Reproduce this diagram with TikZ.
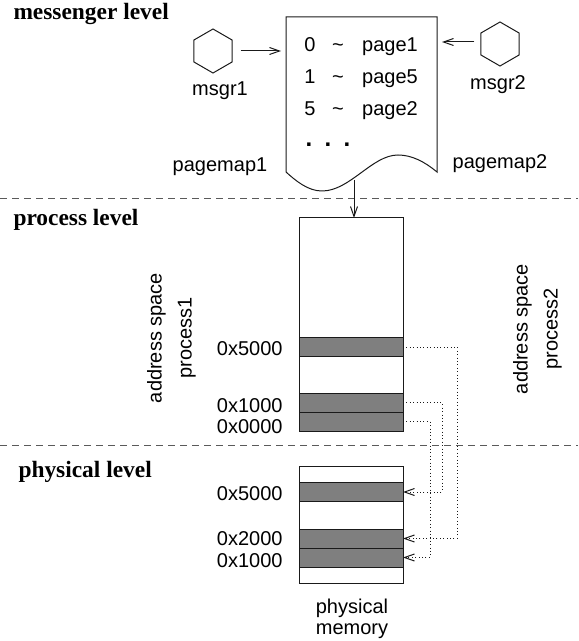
\documentclass[tikz,border=0pt]{standalone}
\usepackage{fontspec}
\setsansfont{Liberation Sans}
\newfontfamily\levelfont{Liberation Serif}
\usetikzlibrary{arrows.meta,calc,shapes.geometric}
\definecolor{ink}{HTML}{1A1A1A}
\definecolor{frame}{HTML}{7F7F7F}
\definecolor{rule}{HTML}{5A5A5A}

\begin{document}
\begin{tikzpicture}[x=0.5pt,y=-0.5pt,font=\sffamily\fontsize{10}{12}\selectfont,
    >={Straight Barb[length=5pt,width=3.5pt]},line width=0.5pt,draw=ink,
    hexa/.style={draw,regular polygon,regular polygon sides=6,
      shape border rotate=30,minimum size=22pt,inner sep=0pt},
    lvltitle/.style={font=\levelfont\bfseries\fontsize{11.7}{14}\selectfont,
      anchor=base west,inner sep=0pt},
    addr/.style={anchor=base east,inner sep=0pt},
    memcol/.style={draw,fill=white,minimum width=52pt,inner sep=0pt,
      outer sep=0pt,anchor=north west},
    pagebar/.style={memcol,fill=frame,minimum height=9.5pt},
    levelrule/.style={rule,dash pattern=on 3.5pt off 2.5pt},
    maplink/.style={->,dash pattern=on 0.5pt off 1.2pt}]
  \useasboundingbox (0,0) rectangle (578,641);

  \node[lvltitle] (lvMsg) at (13,20) {messenger level};
  \node[lvltitle] (lvProc) at (13,226) {process level};
  \node[lvltitle] (lvPhys) at (18,477) {physical level};
  \draw[levelrule] (0,199) -- (578,199);
  \draw[levelrule] (0,445) -- (578,445);

  \node[hexa] (msgrA) at (213,51) {};
  \node[anchor=base] (msgrAlbl) at (220,96) {msgr1};
  \node[hexa] (msgrB) at (500,44) {};
  \node[anchor=base] (msgrBlbl) at (498,90) {msgr2};

  \draw (286,172) -- (286,17) -- (437,17) -- (437,172)
    .. controls (425,162) and (412,155) .. (398,155)
    .. controls (372,155) and (350,191) .. (322,191)
    .. controls (308,191) and (296,181) .. cycle;
  \foreach \k/\p/\y in {0/1/52,1/5/84,5/2/116} {
    \node[anchor=base] (num\k) at (310,\y) {\k};
    \node[anchor=base] (tld\k) at (338,\y) {\textasciitilde};
    \node[anchor=base] (pg\k) at (390,\y) {page\p};
  }
  \node[anchor=base] (dots) at (328,147)
    {\bfseries\fontsize{12}{14}\selectfont .\hspace{6.2pt}.\hspace{6.2pt}.};
  \node[anchor=base] (pmA) at (220,172) {pagemap1};
  \node[anchor=base] (pmB) at (500,169) {pagemap2};

  \coordinate (pgW) at (281,51);
  \coordinate (pgE) at (442,42);
  \coordinate (pgS) at (354,180);
  \draw[->,shorten <=4pt] (msgrA) -- (pgW);
  \draw[->,shorten <=3pt] (msgrB.west |- pgE) -- (pgE);

  \node[memcol,minimum height=106.5pt] (procbox) at (299,218) {};
  \node[pagebar] (pA) at (299,337.5) {};
  \node[pagebar] (pB) at (299,393) {};
  \node[pagebar] (pC) at (299,412) {};
  \draw[->] (pgS) -- (pgS |- procbox.north);
  \node[addr] (pAlbl) at (283,355) {0x5000};
  \node[addr] (pBlbl) at (283,412) {0x1000};
  \node[addr] (pClbl) at (283,433) {0x0000};

  \node[rotate=90,align=center] (asA) at (171.5,338)
    {address space\\[3pt]process1};
  \node[rotate=90,align=center] (asB) at (537.5,329)
    {address space\\[3pt]process2};

  \node[memcol,minimum height=58.5pt] (physbox) at (299,466) {};
  \node[pagebar] (mA) at (299,482.5) {};
  \node[pagebar] (mB) at (299,529) {};
  \node[pagebar] (mC) at (299,548) {};
  \node[addr] (mAlbl) at (283,500) {0x5000};
  \node[addr] (mBlbl) at (283,545) {0x2000};
  \node[addr] (mClbl) at (283,567) {0x1000};
  \node[align=center,font=\sffamily\fontsize{10}{10.5}\selectfont]
    (physlbl) at (352,619) {physical\\memory};

  \draw[maplink] (pA.east) -- ++(54,0) |- (mB.east);
  \draw[maplink] (pB.east) -- ++(39,0) |- (mA.east);
  \draw[maplink] (pC.east) -- ++(27,0) |- (mC.east);
\end{tikzpicture}
\end{document}
